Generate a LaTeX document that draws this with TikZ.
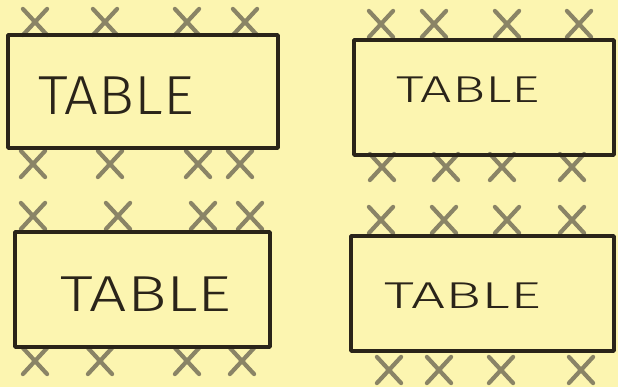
\documentclass[tikz,border=0pt]{standalone}
\usepackage{fontspec}
\setmainfont{Liberation Sans}
\newfontfamily\handfont{Fira Sans Light}
\usepackage{xcolor}
\definecolor{notepad}{HTML}{FCF5B0}
\definecolor{penink}{HTML}{2A2419}
\definecolor{pencil}{HTML}{8A8466}
\usetikzlibrary{shapes.misc}
\tikzset{
  tablebox/.style={rectangle, draw=penink, line width=3.4pt, inner sep=0pt,
                   line join=round},
  tablelbl/.style={text=penink, inner sep=0pt,
                   font=\handfont\fontsize{44}{48}\selectfont},
  chair/.style   ={cross out, draw=pencil, line width=4.2pt, line cap=round,
                   minimum width=20pt, minimum height=22pt, inner sep=0pt},
}

\begin{document}
\begin{tikzpicture}[x=1pt, y=-1pt]
  \fill[notepad] (0,0) rectangle (618,387);
  \useasboundingbox (0,0) rectangle (618,387);
  % chairs first, tables are drawn over them
  \foreach \x [count=\i] in {35,105,187,245}
    \node[chair] (ta\i) at (\x,22) {};
  \foreach \x [count=\i] in {33,110,198,240}
    \node[chair] (ba\i) at (\x,164) {};
  \foreach \x [count=\i] in {381,434,507,579}
    \node[chair] (tb\i) at (\x,24) {};
  \foreach \x [count=\i] in {382,446,502,572}
    \node[chair] (bb\i) at (\x,167) {};
  \foreach \x [count=\i] in {33,118,203,250}
    \node[chair] (tc\i) at (\x,216) {};
  \foreach \x [count=\i] in {35,100,187,242}
    \node[chair] (bc\i) at (\x,361) {};
  \foreach \x [count=\i] in {381,444,507,572}
    \node[chair] (td\i) at (\x,220) {};
  \foreach \x [count=\i] in {389,439,501,581}
    \node[chair] (bd\i) at (\x,370) {};
  % tables
  \node[tablebox, minimum width=270pt, minimum height=113pt] (tabA) at (143,91.5) {};
  \node[tablebox, minimum width=260pt, minimum height=115pt] (tabB) at (484,97.5) {};
  \node[tablebox, minimum width=255pt, minimum height=115pt] (tabC) at (142.5,289.5) {};
  \node[tablebox, minimum width=263pt, minimum height=115pt] (tabD) at (482.5,293.5) {};
  \node[tablelbl, xscale=1.36, yscale=1.25] (lblA) at (116,96) {TABLE};
  \node[tablelbl, xscale=1.26, yscale=0.85] (lblB) at (468,90) {TABLE};
  \node[tablelbl, xscale=1.5, yscale=1.15] (lblC) at (146,294) {TABLE};
  \node[tablelbl, xscale=1.37, yscale=0.85] (lblD) at (463,296) {TABLE};
\end{tikzpicture}
\end{document}
